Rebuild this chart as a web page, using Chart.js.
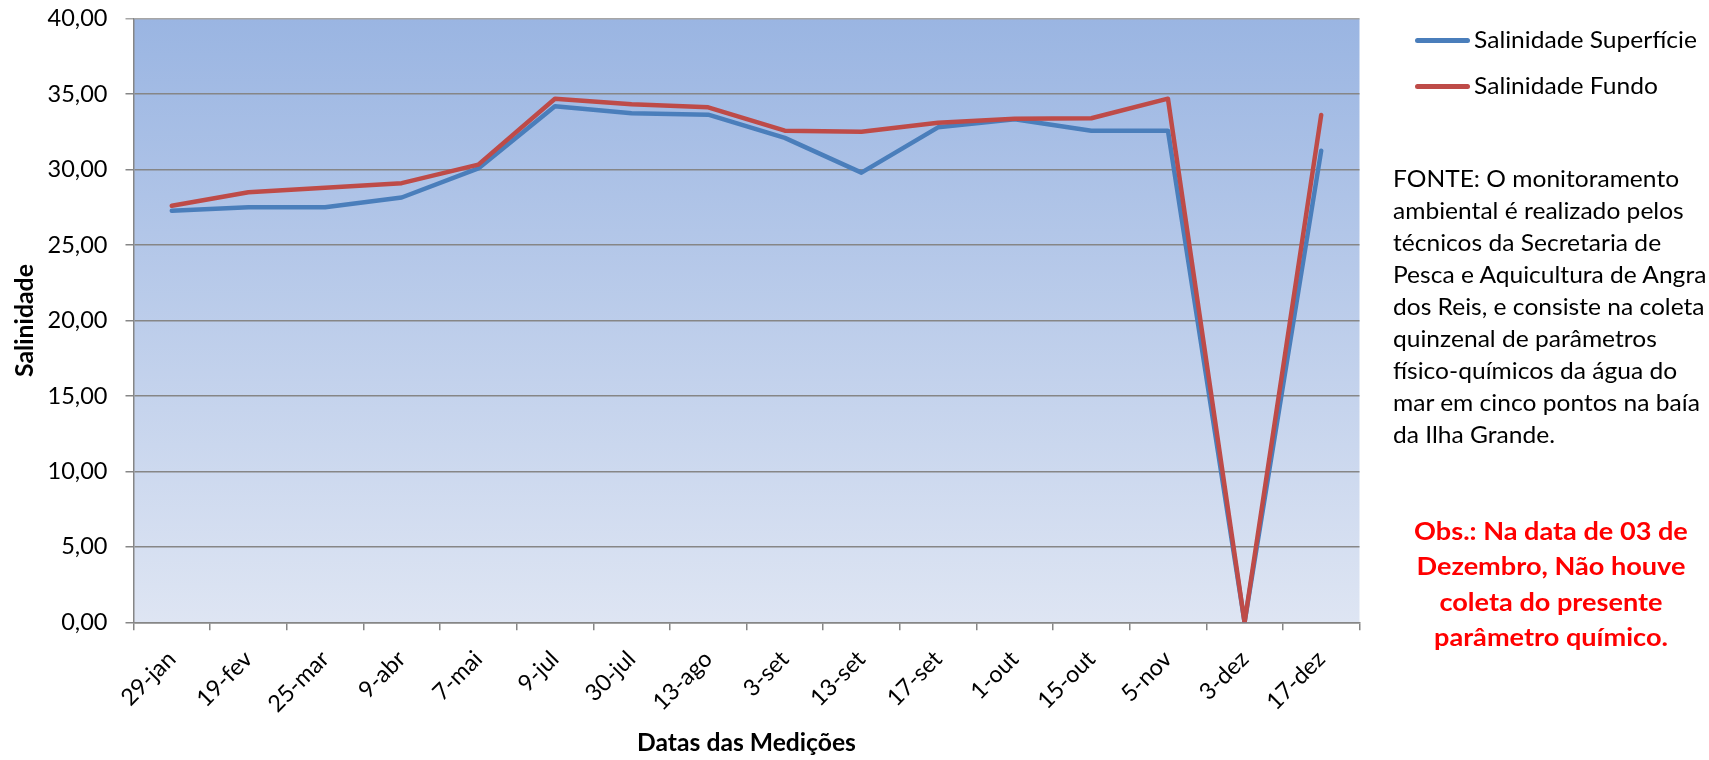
<!DOCTYPE html>
<html>
<head>
<meta charset="utf-8">
<script src="https://cdn.jsdelivr.net/npm/chart.js@4.4.0/dist/chart.umd.min.js"></script>
<style>
  html, body { margin: 0; padding: 0; background: #fff; }
  #wrap { position: relative; width: 1709px; height: 760px; overflow: hidden; }
  canvas { position: absolute; left: 0; top: 0; }
  .legln { position: absolute; left: 1415px; width: 55px; height: 5px; border-radius: 3px; }
  .legtx { position: absolute; left: 1474px; font: 24px Lato, sans-serif; line-height: 28.8px; color: #000; white-space: nowrap; transform-origin: left top; }
  #fonte { position: absolute; left: 1393px; top: 162px; font: 24px Lato, sans-serif; line-height: 32px; color: #000; white-space: nowrap; transform-origin: left top; }
  #obs { position: absolute; left: 1401px; width: 300px; top: 513px; font: bold 24px Lato, sans-serif; line-height: 35.3px; color: #ff0000; text-align: center; white-space: nowrap; transform-origin: center top; }
</style>
</head>
<body>
<div id="wrap">
  <canvas id="c" width="1709" height="760"></canvas>
  <div class="legln" style="top:37.5px;background:#4a7ebb"></div>
  <div class="legtx" id="leg1" style="top:24.6px">Salinidade Superfície</div>
  <div class="legln" style="top:84.2px;background:#be4b48"></div>
  <div class="legtx" id="leg2" style="top:71.3px">Salinidade Fundo</div>
  <div id="fonte">FONTE: O monitoramento<br>ambiental é realizado pelos<br>técnicos da Secretaria de<br>Pesca e Aquicultura de Angra<br>dos Reis, e consiste na coleta<br>quinzenal de parâmetros<br>físico-químicos da água do<br>mar em cinco pontos na baía<br>da Ilha Grande.</div>
  <div id="obs">Obs.: Na data de 03 de<br>Dezembro, Não houve<br>coleta do presente<br>parâmetro químico.</div>
</div>
<script>
const categories = ["29-jan","19-fev","25-mar","9-abr","7-mai","9-jul","30-jul","13-ago","3-set","13-set","17-set","1-out","15-out","5-nov","3-dez","17-dez"];
const salinidadeSuperficie = [27.27, 27.50, 27.50, 28.15, 30.08, 34.20, 33.73, 33.64, 32.10, 29.80, 32.80, 33.33, 32.58, 32.58, 0.00, 31.25];
const salinidadeFundo = [27.60, 28.50, 28.80, 29.10, 30.33, 34.70, 34.33, 34.13, 32.58, 32.51, 33.10, 33.37, 33.40, 34.70, 0.00, 33.62];
const seriesNames = ["Salinidade Superfície", "Salinidade Fundo"];
const yTitle = "Salinidade";
const xTitle = "Datas das Medições";

// size fonts so that text widths match the reference
const mctx = document.createElement('canvas').getContext('2d');
function measure(text, weight, size) { mctx.font = weight + ' ' + size + 'px Lato'; return mctx.measureText(text).width; }
function fit(text, weight, target) { return 100 * target / measure(text, weight, 100); }
const yTickSize = fit('40,00', 'normal', 60);
const xTickSize = fit('25-mar', 'normal', 75);
const yTitleSize = fit(yTitle, 'bold', 113);
const xTitleSize = fit(xTitle, 'bold', 219);

function stretch(id, text, weight, target) {
  const el = document.getElementById(id);
  const s = target / measure(text, weight, 24);
  el.style.transform = 'scaleX(' + s + ')';
}
stretch('leg1', 'Salinidade Superfície', 'normal', 223);
stretch('leg2', 'Salinidade Superfície', 'normal', 223);
stretch('fonte', 'Pesca e Aquicultura de Angra', 'normal', 315);
stretch('obs', 'Dezembro, Não houve', 'bold', 269);

const bgPlugin = {
  id: 'bgGrad',
  beforeDraw(chart) {
    const {ctx, chartArea: a} = chart;
    const g = ctx.createLinearGradient(0, a.top, 0, a.bottom);
    g.addColorStop(0, '#9ab5e2');
    g.addColorStop(1, '#dee5f3');
    ctx.save();
    ctx.fillStyle = g;
    ctx.fillRect(a.left, a.top, a.right - a.left, a.bottom - a.top);
    ctx.restore();
  }
};

new Chart(document.getElementById('c'), {
  type: 'line',
  data: {
    labels: categories,
    datasets: [
      { label: seriesNames[0], data: salinidadeSuperficie, borderColor: '#4a7ebb', backgroundColor: '#4a7ebb', borderWidth: 4.5, pointRadius: 0, tension: 0, order: 2, borderCapStyle: 'round', borderJoinStyle: 'round' },
      { label: seriesNames[1], data: salinidadeFundo, borderColor: '#be4b48', backgroundColor: '#be4b48', borderWidth: 4.5, pointRadius: 0, tension: 0, order: 1, borderCapStyle: 'round', borderJoinStyle: 'round' }
    ]
  },
  options: {
    responsive: false,
    animation: false,
    layout: { padding: { left: 0, top: 18.7, right: 349.5, bottom: 0 } },
    plugins: { legend: { display: false }, tooltip: { enabled: false } },
    scales: {
      x: {
        offset: true,
        grid: { display: true, drawOnChartArea: false, drawTicks: true, tickLength: 8, color: '#868686', lineWidth: 1.5, offset: true },
        border: { display: true, color: '#868686', width: 1.5 },
        ticks: { maxRotation: 45, minRotation: 45, autoSkip: false, padding: 15, color: '#000', font: { family: 'Lato', size: xTickSize } },
        title: { display: true, text: xTitle, color: '#000', font: { family: 'Lato', size: xTitleSize, weight: 'bold' }, padding: { top: 0, bottom: 2.5 } },
        afterFit(s) { s.height = 760 - 622.3; s.paddingLeft = 0; s.paddingRight = 0; }
      },
      y: {
        min: 0, max: 40,
        ticks: { stepSize: 5, padding: 18, color: '#000', font: { family: 'Lato', size: yTickSize },
          callback: v => Number(v).toFixed(2).replace('.', ',') },
        grid: { color: ctx => ctx.tick && ctx.tick.value === 40 ? '#a6a6a6' : '#868686', lineWidth: 1.5, tickLength: 8, drawTicks: true },
        border: { display: true, color: '#868686', width: 1.5 },
        title: { display: true, text: yTitle, color: '#000', font: { family: 'Lato', size: yTitleSize, weight: 'bold' }, padding: { top: 10, bottom: 0 } },
        afterFit(s) { s.width = 133.5; s.paddingTop = 0; s.paddingBottom = 0; }
      }
    }
  },
  plugins: [bgPlugin]
});
</script>
</body>
</html>
